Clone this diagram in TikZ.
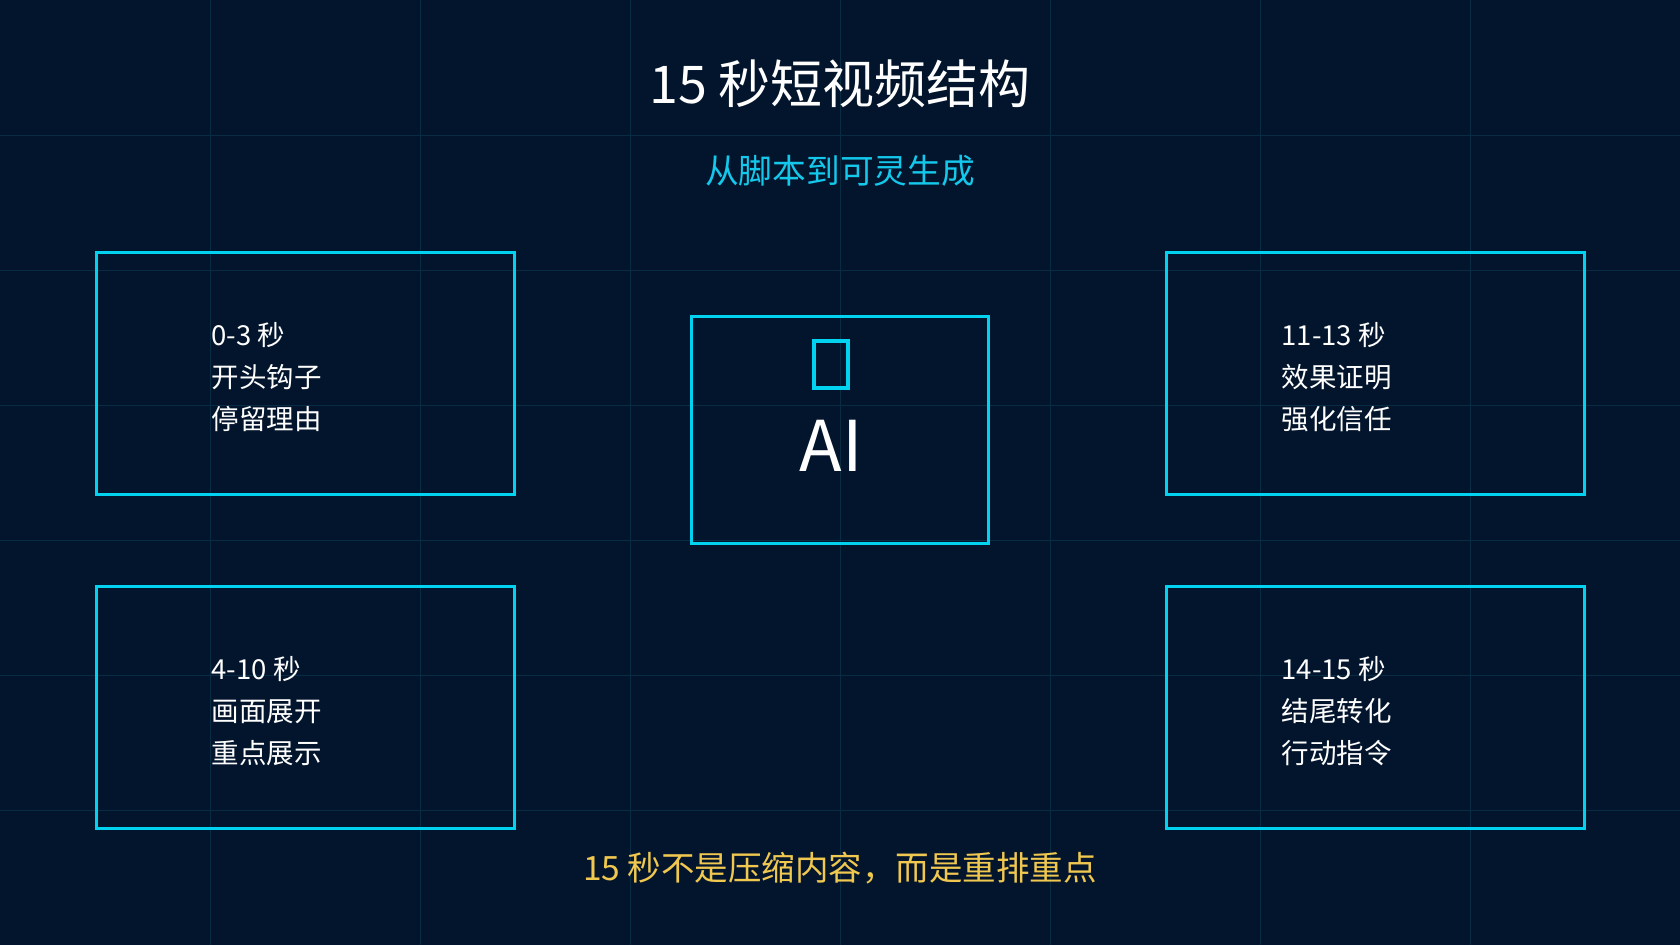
\documentclass[tikz,border=0pt]{standalone}
\usepackage{fontspec}
\setmainfont{Noto Sans CJK SC}
\usetikzlibrary{positioning}
\definecolor{bgnavy}{RGB}{3,21,45}
\definecolor{gridteal}{RGB}{8,44,68}
\definecolor{boxcyan}{RGB}{0,210,240}
\definecolor{subcyan}{RGB}{20,200,235}
\definecolor{notegold}{RGB}{240,200,80}
\tikzset{
  stagebox/.style={draw=boxcyan, line width=3pt, minimum width=418pt, minimum height=242pt},
  stagetext/.style={text=white, font=\fontsize{27.5}{42}\selectfont, align=left, anchor=west}
}
\begin{document}
\begin{tikzpicture}[x=1pt, y=-1pt]
        \fill[bgnavy] (0,0) rectangle (1680,945);
        \useasboundingbox (0,0) rectangle (1680,945);
        \foreach \gx in {1,...,7}
            \draw[gridteal, line width=1pt] (\gx*210,0) -- (\gx*210,945);
        \foreach \gy in {1,...,6}
            \draw[gridteal, line width=1pt] (0,\gy*135) -- (1680,\gy*135);

        \node[text=white, font=\fontsize{52}{60}\selectfont] (title) at (840,84) {15 秒短视频结构};
        \node[text=subcyan, font=\fontsize{33.7}{40}\selectfont] (sub) at (840,171) {从脚本到可灵生成};

        \node[stagebox] (hook) at (305,373) {};
        \node[stagebox] (show) at (305,707) {};
        \node[stagebox] (proof) at (1375,373) {};
        \node[stagebox] (close) at (1375,707) {};
        \node[draw=boxcyan, line width=3pt, minimum width=297pt, minimum height=227pt] (ai) at (839.5,429.5) {};

        \node[stagetext] at (208,377) {0-3 秒\\开头钩子\\停留理由};
        \node[stagetext] at (208,711) {4-10 秒\\画面展开\\重点展示};
        \node[stagetext] at (1278,377) {11-13 秒\\效果证明\\强化信任};
        \node[stagetext] at (1278,711) {14-15 秒\\结尾转化\\行动指令};

        \draw[boxcyan, line width=4pt] (814,341) rectangle (848,388);
        \node[text=white, font=\fontsize{70}{80}\selectfont] (ailabel) at (831,446) {AI};

        \node[text=notegold, font=\fontsize{33.5}{40}\selectfont] (note) at (840,868) {15 秒不是压缩内容，而是重排重点};
\end{tikzpicture}
\end{document}
